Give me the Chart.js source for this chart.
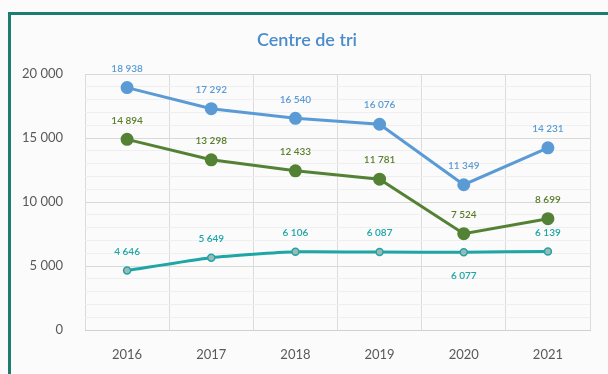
<!DOCTYPE html>
<html>
<head>
<meta charset="utf-8">
<script src="https://cdn.jsdelivr.net/npm/chart.js@4/dist/chart.umd.min.js"></script>
<style>
    html, body { margin: 0; padding: 0; background: #ffffff; }
    #wrap { position: relative; width: 608px; height: 374px; overflow: hidden; background: #fbfbfb; }
    #frame { position: absolute; left: 8px; top: 12px; width: 640px; height: 400px; border-top: 3px solid #1b7d70; border-left: 3px solid #1b7d70; }
    #chart-1 { position: absolute; left: 0; top: 0; }
</style>
</head>
<body>
<div id="wrap">
    <div id="frame"></div>
    <canvas id="chart-1" width="608" height="374"></canvas>
</div>
<script>
const years = ['2016', '2017', '2018', '2019', '2020', '2021'];
const serieBleue = [18938, 17292, 16540, 16076, 11349, 14231];
const serieVerte = [14894, 13298, 12433, 11781, 7524, 8699];
const serieTurquoise = [4646, 5649, 6106, 6087, 6077, 6139];
const yTicks = [0, 5000, 10000, 15000, 20000];

const bleu = '#5b9bd5';
const vert = '#548235';
const turquoise = '#1ea5a5';

// nombres avec espace comme séparateur de milliers
function formatNombre(n) {
    return String(n).replace(/\B(?=(\d{3})+(?!\d))/g, ' ');
}

// étiquettes de valeurs + titre
const etiquettes = {
    id: 'etiquettes',
    afterDatasetsDraw(chart) {
        const ctx = chart.ctx;
        ctx.save();
        ctx.textAlign = 'center';
        ctx.textBaseline = 'middle';
        ctx.font = '600 10px Lato';
        chart.data.datasets.forEach((ds, di) => {
            const meta = chart.getDatasetMeta(di);
            meta.data.forEach((pt, i) => {
                const dessous = ds.labelsBelow && ds.labelsBelow.includes(i);
                ctx.fillStyle = ds.labelColor;
                ctx.fillText(formatNombre(ds.data[i]), pt.x, dessous ? pt.y + 24 : pt.y - 19);
            });
        });
        ctx.font = '600 18px Lato';
        ctx.fillStyle = '#4a8ccb';
        ctx.fillText('Centre de tri', 307, 40);
        ctx.restore();
    }
};

new Chart(document.querySelector('#chart-1'), {
    type: 'line',
    data: {
        labels: years,
        datasets: [{
            data: serieBleue,
            borderColor: bleu,
            backgroundColor: bleu,
            labelColor: bleu,
            borderWidth: 3,
            pointRadius: 5,
            tension: 0
        }, {
            data: serieVerte,
            borderColor: vert,
            backgroundColor: vert,
            labelColor: '#5a7d2c',
            borderWidth: 3,
            pointRadius: 5,
            tension: 0
        }, {
            data: serieTurquoise,
            borderColor: turquoise,
            backgroundColor: '#9fb8b6',
            labelColor: turquoise,
            labelsBelow: [4],
            borderWidth: 3,
            pointRadius: 3.5,
            pointBorderWidth: 1.5,
            tension: 0.2
        }]
    },
    options: {
        responsive: false,
        animation: false,
        layout: { padding: { top: 74, right: 18, left: 0, bottom: 0 } },
        plugins: {
            legend: { display: false },
            title: { display: false },
            tooltip: { enabled: false }
        },
        scales: {
            x: {
                offset: true,
                grid: { offset: true, color: '#dcdcdc', drawTicks: false },
                border: { color: '#d0d0d0' },
                ticks: { color: '#595959', font: { family: 'Lato', size: 13 }, padding: 17 },
                afterFit(scale) { scale.height = 44; }
            },
            y: {
                min: 0,
                max: 20000,
                grid: {
                    drawTicks: false,
                    color: c => (c.tick && c.tick.value % 5000 === 0) ? '#d9d9d9' : '#efefef'
                },
                border: { display: false },
                ticks: {
                    stepSize: 1000,
                    autoSkip: false,
                    color: '#595959',
                    font: { family: 'Lato', size: 13 },
                    padding: 22,
                    callback: v => yTicks.includes(v) ? formatNombre(v) : ''
                },
                afterFit(scale) { scale.width = 85; }
            }
        }
    },
    plugins: [etiquettes]
});
</script>
</body>
</html>
